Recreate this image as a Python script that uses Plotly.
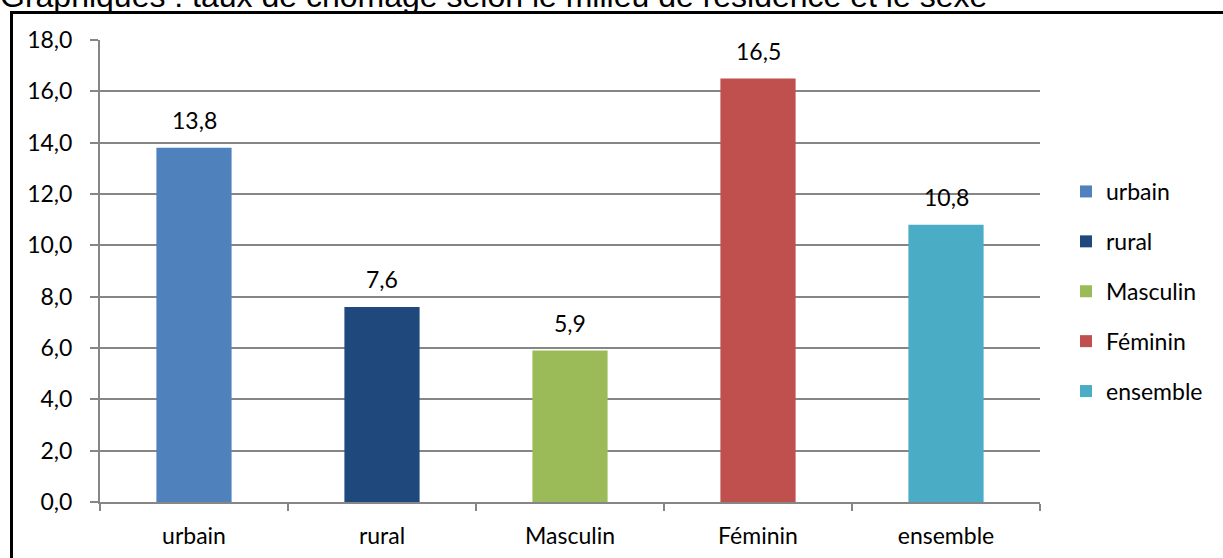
import plotly.graph_objects as go

categories = ["urbain", "rural", "Masculin", "Féminin", "ensemble"]
values = [13.8, 7.6, 5.9, 16.5, 10.8]
colors = ["#4F81BD", "#1F497D", "#9BBB59", "#C0504D", "#4BACC6"]
label_texts = ["13,8", "7,6", "5,9", "16,5", "10,8"]
title_text = "Graphiques : taux de chômage selon le milieu de résidence et le sexe"

W, H = 1223, 558
ML, MR, MT, MB = 100, 183, 40, 56
PW, PH = W - ML - MR, H - MT - MB

FONT = "Lato"
FS = 23

fig = go.Figure()
for i, (c, v, col) in enumerate(zip(categories, values, colors)):
    fig.add_trace(go.Bar(
        x=[c], y=[v], name=c, marker=dict(color=col, line=dict(width=0)),
        width=0.4, legendgroup=c,
        hoverinfo="x+y",
    ))
    fig.add_annotation(
        x=c, y=v, xref="x", yref="y", text=label_texts[i], showarrow=False,
        yanchor="bottom", yshift=12, font=dict(family=FONT, size=FS, color="#000000"),
    )

def px_x(p):
    return (p - ML) / PW

def px_y(p):
    return (H - MB - p) / PH

# outer frame
fig.add_shape(type="line", xref="paper", yref="paper",
              x0=px_x(11.5), x1=px_x(11.5), y0=px_y(12.5), y1=px_y(570),
              line=dict(color="#000000", width=3))
fig.add_shape(type="line", xref="paper", yref="paper",
              x0=px_x(10), x1=px_x(1240), y0=px_y(12.5), y1=px_y(12.5),
              line=dict(color="#000000", width=3))

# cut-off title
fig.add_annotation(
    x=px_x(-2), y=px_y(16), xref="paper", yref="paper", xanchor="left", yanchor="bottom",
    text=title_text, showarrow=False,
    font=dict(family="Liberation Sans", size=32, color="#000000"),
)

fig.update_layout(
    width=W, height=H,
    margin=dict(l=ML, r=MR, t=MT, b=MB, autoexpand=False),
    paper_bgcolor="#FFFFFF", plot_bgcolor="#FFFFFF",
    barmode="overlay",
    separators=", ",
    showlegend=True,
    legend=dict(x=px_x(1066), y=px_y(170), xanchor="left", yanchor="top",
                font=dict(family=FONT, size=FS, color="#000000"),
                tracegroupgap=17, itemwidth=30,
                bgcolor="rgba(0,0,0,0)"),
    font=dict(family=FONT, size=FS, color="#000000"),
    xaxis=dict(
        type="category", categoryorder="array", categoryarray=categories,
        showline=True, linecolor="#868686", linewidth=2,
        ticks="outside", tickson="boundaries", ticklen=7, tickcolor="#868686", tickwidth=2,
        showgrid=False, tickfont=dict(family=FONT, size=FS, color="#000000"),
        ticklabelstandoff=12,
        fixedrange=True,
    ),
    yaxis=dict(
        range=[0, 18], tickmode="linear", tick0=0, dtick=2, tickformat=".1f",
        showgrid=True, gridcolor="#868686", gridwidth=2,
        showline=True, linecolor="#868686", linewidth=2,
        ticks="outside", ticklen=8, tickcolor="#868686", tickwidth=2,
        zeroline=False, tickfont=dict(family=FONT, size=FS, color="#000000"),
        ticklabelstandoff=13,
        fixedrange=True,
    ),
)

fig.write_html("out.html", config={"displayModeBar": False},
               post_script="document.body.style.margin='0';document.body.style.overflow='hidden';")
